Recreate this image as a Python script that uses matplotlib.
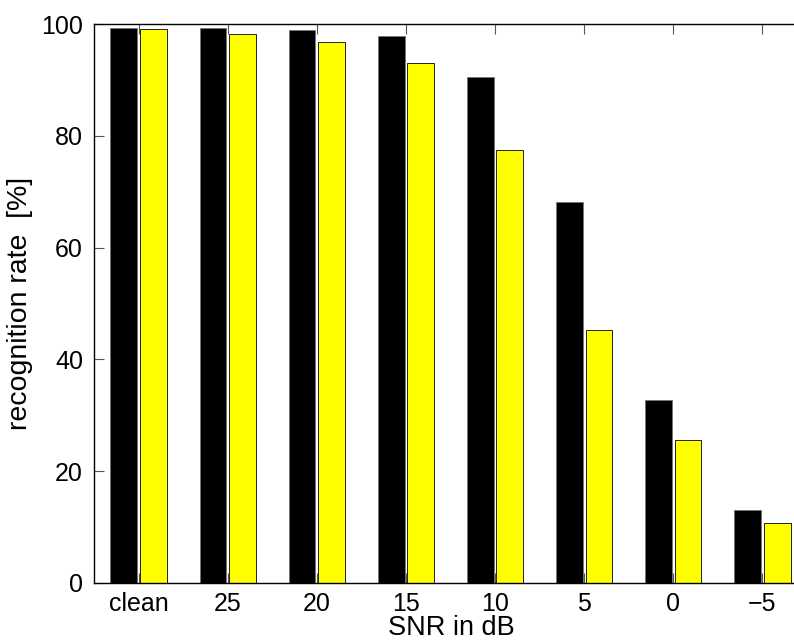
import matplotlib
matplotlib.use("Agg")
import matplotlib.pyplot as plt
import numpy as np

categories = ["clean", "25", "20", "15", "10", "5", "0", "\u22125"]
series_black = [99.3, 99.3, 98.9, 97.9, 90.6, 68.1, 32.8, 13.0]
series_yellow = [99.2, 98.3, 96.9, 93.0, 77.5, 45.3, 25.6, 10.75]
yticks = [0, 20, 40, 60, 80, 100]

plt.rcParams['font.family'] = ['Liberation Sans', 'DejaVu Sans']

fig = plt.figure(figsize=(7.94, 6.44), dpi=100)
ax = fig.add_axes([94/794, (644-582.7)/644, (807-94)/794, (582.7-24.3)/644])

x = np.arange(1, len(categories) + 1)
w = 0.30
off = 0.165
ax.bar(x - off, series_black, width=w, color="black", edgecolor="#777777", linewidth=0.7)
ax.bar(x + off, series_yellow, width=w, color="#ffff00", edgecolor="#222222", linewidth=0.7)

ax.set_xlim(0.5, 8.5)
ax.set_ylim(0, 100)
ax.set_xticks(x)
ax.set_xticklabels(categories)
ax.set_yticks(yticks)

ax.tick_params(axis='both', direction='in', length=7, width=0.8, color='#555555',
               labelsize=18, labelcolor='black')
ax.tick_params(axis='x', top=True, bottom=True, pad=7)
ax.tick_params(axis='y', left=True, right=False, pad=8)

for s in ['left', 'top', 'bottom']:
    ax.spines[s].set_linewidth(1.0)
    ax.spines[s].set_color('black')
ax.spines['right'].set_visible(False)

ax.set_xlabel("SNR in dB", fontsize=19.5, va='bottom')
ax.xaxis.set_label_coords(0.5, -0.099 - 0.0, transform=None)
ax.xaxis.label.set_transform(fig.transFigure)
ax.xaxis.label.set_position((451/794, 3/644))
ax.set_ylabel("recognition rate  [%]", fontsize=20.5, labelpad=6)

fig.savefig("out.png", dpi=100)
